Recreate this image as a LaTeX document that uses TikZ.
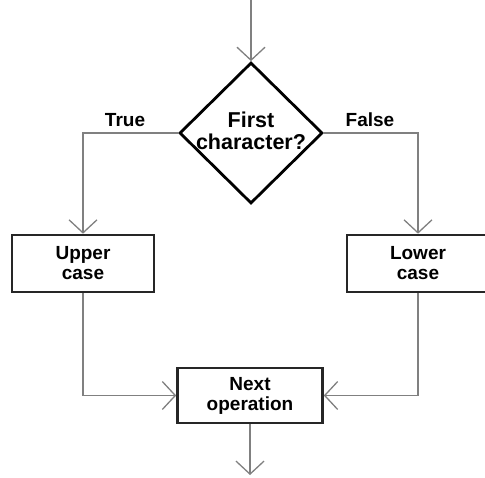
\documentclass[tikz,border=0pt]{standalone}
\usepackage{fontspec}
\setmainfont{Liberation Sans}
\usetikzlibrary{arrows.meta,shapes.geometric}
\begin{document}
\begin{tikzpicture}[x=1pt,y=-1pt,
  txt/.style={font=\bfseries\fontsize{19}{20}\selectfont, align=center, inner sep=0pt},
  bigtxt/.style={txt, font=\bfseries\fontsize{21.5}{21.5}\selectfont},
  box/.style={draw=black!85, line width=2.6pt, minimum width=142pt, minimum height=57pt,
              inner sep=0pt, txt},
  decision/.style={diamond, draw=black, line width=2.8pt, minimum width=143pt,
              minimum height=141pt, inner sep=0pt},
  conn/.style={draw=black!50, line width=1.3pt,
              -{Straight Barb[length=13pt, width=28pt]}},
]
\useasboundingbox (0,0) rectangle (485,478);
\clip (0,0) rectangle (485,478);

% decision and process boxes
\node[decision] (dec) at (251,133) {};
\node[bigtxt] (dectxt) at (251,131) {First\\character?};
\node[box] (up)  at (83,263.5)  {Upper\\case};
\node[box] (low) at (418,263.5) {Lower\\case};
\node[box, minimum width=145pt, minimum height=55pt] (nxt) at (250,395.5) {Next\\operation};

% branch labels
\node[txt] (t) at (125,120) {True};
\node[txt] (f) at (370,120) {False};

% free ends of the flow
\coordinate (start) at (251,0);
\coordinate (stop)  at (250,475);

% flow lines
\draw[conn] (start) -- (dec.north);
\draw[conn] (dec.west) -| (up.north);
\draw[conn] (dec.east) -| (low.north);
\draw[conn] (up.south) |- (nxt.west);
\draw[conn] (low.south) |- (nxt.east);
\draw[conn] (nxt.south) -- (stop);
\end{tikzpicture}
\end{document}
